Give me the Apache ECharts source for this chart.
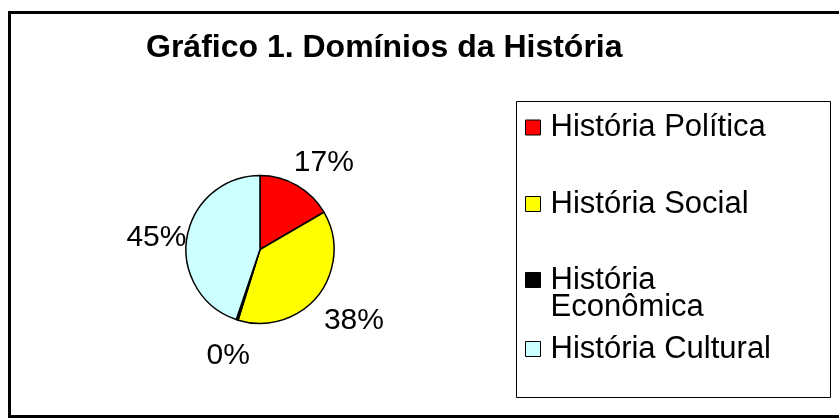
<!DOCTYPE html>
<html>
<head>
<meta charset="utf-8">
<script src="https://cdn.jsdelivr.net/npm/echarts@6/dist/echarts.min.js"></script>
<style>
html,body{margin:0;padding:0;background:#fff;}
#chart{width:839px;height:418px;}
</style>
</head>
<body>
<div id="chart"></div>
<script>
const titleText = 'Gráfico 1. Domínios da História';
const categories = ['História Política', 'História Social', 'História Econômica', 'História Cultural'];
const legendLabels = ['História Política', 'História Social', '\nHistória\nEconômica', 'História Cultural'];
const values = [16.6, 38.2, 0.4, 44.8];
const colors = ['#FF0000', '#FFFF00', '#000000', '#CCFFFF'];

const FONT = '"Liberation Sans", Arial, sans-serif';
const legendTops = [112, 188.5, 237.5, 333.5];

const chart = echarts.init(document.getElementById('chart'), null, {renderer: 'canvas'});

const legends = categories.map((name, i) => ({
  data: [name],
  orient: 'vertical',
  left: 525,
  top: legendTops[i],
  padding: 0,
  itemWidth: 15,
  itemHeight: 15,
  selectedMode: false,
  icon: 'rect',
  itemStyle: {borderColor: '#000', borderWidth: 1},
  formatter: () => legendLabels[i],
  textStyle: {
    fontFamily: FONT,
    fontSize: 31,
    lineHeight: 27,
    color: '#000',
    padding: [0, 0, 0, 5]
  }
}));

chart.setOption({
  animation: false,
  backgroundColor: '#fff',
  title: {
    text: titleText,
    left: 141,
    top: 27,
    textStyle: {fontFamily: FONT, fontSize: 32, fontWeight: 'bold', color: '#000'}
  },
  graphic: [
    {type: 'rect', shape: {x: 9.5, y: 12.5, width: 900, height: 404}, style: {fill: 'none', stroke: '#000', lineWidth: 3}, silent: true},
    {type: 'rect', shape: {x: 516.5, y: 101.5, width: 314, height: 296}, style: {fill: 'none', stroke: '#000', lineWidth: 1}, silent: true}
  ],
  legend: legends,
  series: [{
    type: 'pie',
    center: [260, 249.5],
    radius: 74,
    startAngle: 90,
    clockwise: true,
    avoidLabelOverlap: false,
    itemStyle: {borderColor: '#000', borderWidth: 1.5},
    emphasis: {disabled: true},
    label: {
      show: true,
      position: 'outside',
      fontFamily: FONT,
      fontSize: 30,
      color: '#000',
      distanceToLabelLine: 5,
      formatter: p => Math.round(p.percent) + '%'
    },
    labelLine: {show: false, length: 32, length2: 0},
    labelLayout: () => ({align: 'center', verticalAlign: 'middle', dx: 6, dy: 5}),
    data: categories.map((name, i) => ({name, value: values[i], itemStyle: {color: colors[i]}}))
  }]
});
</script>
</body>
</html>
